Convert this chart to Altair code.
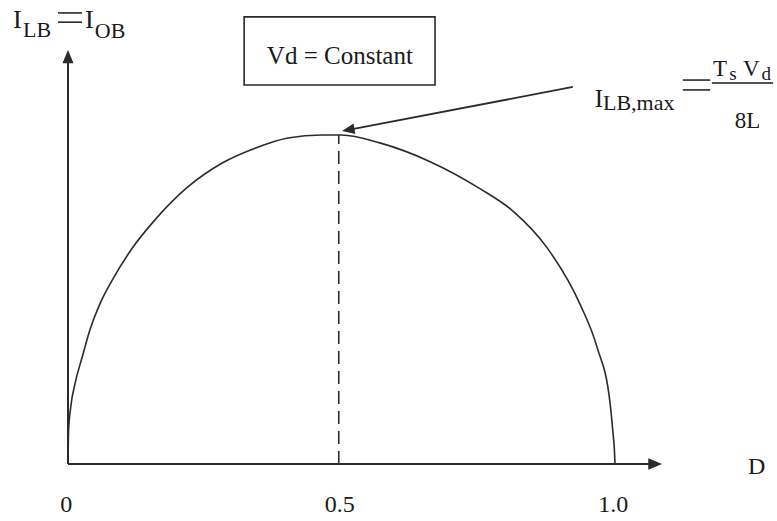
import altair as alt
import pandas as pd

# Boundary current I_LB (normalised to its maximum) against duty ratio D
duty = [0.000, 0.001, 0.005, 0.013, 0.026, 0.040, 0.059, 0.082, 0.117, 0.159,
        0.219, 0.282, 0.342, 0.402, 0.464, 0.500, 0.570, 0.662, 0.753, 0.814,
        0.876, 0.936, 0.967, 0.991, 0.996, 0.999, 1.000]
i_lb = [0.000, 0.100, 0.173, 0.246, 0.325, 0.407, 0.489, 0.562, 0.655, 0.742,
        0.842, 0.915, 0.960, 0.991, 1.000, 1.000, 0.976, 0.919, 0.837, 0.768,
        0.657, 0.486, 0.356, 0.185, 0.100, 0.040, 0.000]

tick_values = [0.0, 0.5, 1.0]
tick_labels = ["0", "0.5", "1.0"]

W, H = 777, 521
xs = alt.Scale(domain=[-0.12431, 1.29616], nice=False, zero=False)
ys = alt.Scale(domain=[-0.17325, 1.41033], nice=False, zero=False)

INK = "#2b2b2b"
SERIF = "Liberation Serif"
ARROW = "M0,0L0.42,1L-0.42,1Z"  # tip sits on the anchor point


def X(field="x", **kw):
    return alt.X(field, type="quantitative", scale=xs, axis=None, **kw)


def Y(field="y", **kw):
    return alt.Y(field, type="quantitative", scale=ys, axis=None, **kw)


curve_df = pd.DataFrame({"x": duty, "y": i_lb, "o": range(len(duty))})
curve = alt.Chart(curve_df).mark_line(
    color=INK, strokeWidth=1.6, interpolate="monotone"
).encode(x=X(), y=Y(), order="o:Q")

# Axes with arrowheads
axes_df = pd.DataFrame({
    "x": [0.0, 0.0], "y": [0.0, 0.0], "x2": [0.0, 1.065], "y2": [1.23, 0.0]
})
axes = alt.Chart(axes_df).mark_rule(color=INK, strokeWidth=2).encode(
    x=X(), y=Y(), x2="x2:Q", y2="y2:Q"
)

heads_df = pd.DataFrame({
    "x": [0.0, 1.086, 0.501],
    "y": [1.258, 0.0, 1.012],
    "a": [0, 90, 259.2],
    "s": [700, 760, 640],
})
heads = alt.Chart(heads_df).mark_point(
    shape=ARROW, filled=True, opacity=1, color=INK
).encode(
    x=X(), y=Y(),
    angle=alt.Angle("a:Q", scale=None),
    size=alt.Size("s:Q", scale=None),
)

# Dashed guide at D = 0.5
guide = alt.Chart(pd.DataFrame({"x": [0.495], "y": [0.0], "y2": [1.0]})).mark_rule(
    color=INK, strokeWidth=1.6, strokeDash=[13, 7]
).encode(x=X(), y=Y(), y2="y2:Q")

# Pointer toward the maximum
pointer = alt.Chart(pd.DataFrame({"x": [0.923], "y": [1.146],
                                  "x2": [0.515], "y2": [1.016]})).mark_rule(
    color=INK, strokeWidth=1.8
).encode(x=X(), y=Y(), x2="x2:Q", y2="y2:Q")

# Fraction bar of T_s V_d / 8L and the two equals signs (drawn as bar pairs)
bars_df = pd.DataFrame({
    "x": [1.177, -0.0183, -0.0183, 1.124, 1.124],
    "x2": [1.289, 0.0256, 0.0256, 1.174, 1.174],
    "y": [1.158, 1.371, 1.343, 1.167, 1.137],
})
bars = alt.Chart(bars_df).mark_rule(color="#1a1a1a", strokeWidth=1.5).encode(
    x=X(), x2="x2:Q", y=Y()
)

# Box around "Vd = Constant"
box = alt.Chart(pd.DataFrame({"x": [0.322], "x2": [0.671],
                              "y": [1.152], "y2": [1.359]})).mark_rect(
    fill="white", stroke=INK, strokeWidth=1.6
).encode(x=X(), x2="x2:Q", y=Y(), y2="y2:Q")

# Text pieces: (text, x, y, size, align)
texts = [
    ("I", -0.1005, 1.325, 26, "left"),
    ("LB", -0.0823, 1.298, 22, "left"),
    ("I", 0.031, 1.325, 26, "left"),
    ("OB", 0.049, 1.295, 22, "left"),
    ("Vd = Constant", 0.497, 1.216, 25, "center"),
    ("I", 0.963, 1.085, 25, "left"),
    ("LB,max", 0.978, 1.076, 22, "left"),
    ("T", 1.179, 1.180, 23, "left"),
    ("s", 1.209, 1.168, 19, "left"),
    ("V", 1.234, 1.180, 23, "left"),
    ("d", 1.268, 1.168, 19, "left"),
    ("8L", 1.219, 1.021, 23, "left"),
    ("D", 1.243, -0.030, 24, "left"),
]
for v, lab in zip(tick_values, tick_labels):
    texts.append((lab, v - 0.003, -0.146, 24, "center"))

text_layers = []
for align in ["left", "center"]:
    rows = [t for t in texts if t[4] == align]
    df = pd.DataFrame({
        "t": [r[0] for r in rows],
        "x": [r[1] for r in rows],
        "y": [r[2] for r in rows],
        "fs": [r[3] for r in rows],
    })
    text_layers.append(
        alt.Chart(df).mark_text(
            font=SERIF, color="#1a1a1a", align=align, baseline="alphabetic"
        ).encode(
            x=X(), y=Y(), text="t:N", size=alt.Size("fs:Q", scale=None)
        )
    )

chart = alt.layer(
    box, guide, axes, curve, pointer, bars, heads, *text_layers
).properties(
    width=W, height=H, padding=0, autosize=alt.AutoSizeParams(type="none"),
    background="white"
).configure_view(stroke=None)

chart.save("out.html", embed_options={"renderer": "svg", "actions": False})
